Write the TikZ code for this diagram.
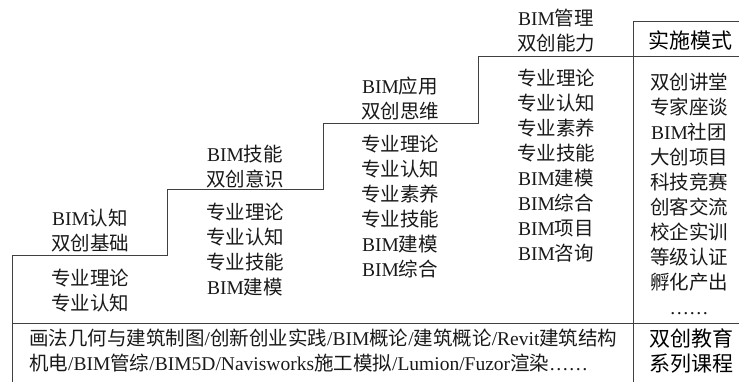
\documentclass[tikz,border=0pt]{standalone}
\usepackage{fontspec}
\setmainfont{Liberation Serif}
\newfontfamily\cjk{Noto Sans CJK SC}
\newcommand{\zh}[1]{{\cjk #1}}
\tikzset{
  lbl/.style={align=center, inner sep=0pt, font=\fontsize{19.5}{25}\selectfont, text=black!90},
  hdr/.style={lbl, font=\fontsize{21}{25}\selectfont, text=black},
  rule/.style={line width=1pt, draw=black!75}
}
\begin{document}
\begin{tikzpicture}[x=1pt,y=-1pt]
\useasboundingbox (0,0) rectangle (739,382);
% staircase outline
\draw[rule] (12,382) -- (12,256) -- (167,256) -- (167,190) -- (323,190) -- (323,124)
  -- (478,124) -- (478,57) -- (739,57);
\draw[rule] (12,323) -- (739,323);
\draw[rule] (633,382) -- (633,22) -- (739,22);
% step 1
\node[lbl] (h1) at (90,231) {BIM\zh{认知}\\\zh{双创基础}};
\node[lbl] (c1) at (90,291) {\zh{专业理论}\\\zh{专业认知}};
% step 2
\node[lbl] (h2) at (245,167) {BIM\zh{技能}\\\zh{双创意识}};
\node[lbl] (c2) at (245,250) {\zh{专业理论}\\\zh{专业认知}\\\zh{专业技能}\\BIM\zh{建模}};
% step 3
\node[lbl] (h3) at (400,99) {BIM\zh{应用}\\\zh{双创思维}};
\node[lbl] (c3) at (400,207) {\zh{专业理论}\\\zh{专业认知}\\\zh{专业素养}\\\zh{专业技能}\\BIM\zh{建模}\\BIM\zh{综合}};
% step 4
\node[lbl] (h4) at (556,31) {BIM\zh{管理}\\\zh{双创能力}};
\node[lbl] (c4) at (556,166) {\zh{专业理论}\\\zh{专业认知}\\\zh{专业素养}\\\zh{专业技能}\\BIM\zh{建模}\\BIM\zh{综合}\\BIM\zh{项目}\\BIM\zh{咨询}};
% implementation column
\node[hdr] (mh) at (690,40) {\zh{实施模式}};
\node[lbl] (mc) at (689,194) {\zh{双创讲堂}\\\zh{专家座谈}\\BIM\zh{社团}\\\zh{大创项目}\\\zh{科技竞赛}\\\zh{创客交流}\\\zh{校企实训}\\\zh{等级认证}\\\zh{孵化产出}\\……};
% courses
\node[lbl, anchor=west, align=left] (cs) at (29,351) {\zh{画法几何与建筑制图}/\zh{创新创业实践}/BIM\zh{概论}/\zh{建筑概论}/Revit\zh{建筑结构}\\\zh{机电}/BIM\zh{管综}/BIM5D/Navisworks\zh{施工模拟}/Lumion/Fuzor\zh{渲染}……};
\node[hdr] (ct) at (691,351) {\zh{双创教育}\\\zh{系列课程}};
\end{tikzpicture}
\end{document}
